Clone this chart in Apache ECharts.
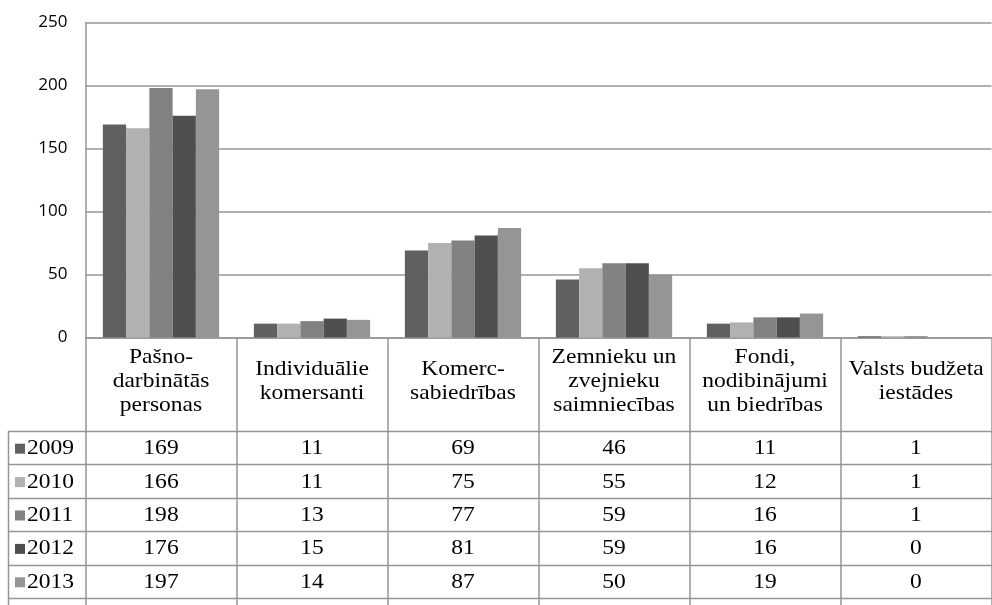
<!DOCTYPE html>
<html>
<head>
<meta charset="utf-8">
<script src="https://cdn.jsdelivr.net/npm/echarts@6/dist/echarts.min.js"></script>
<style>html,body{margin:0;padding:0;background:#fff;}#c{width:992px;height:605px;}</style>
</head>
<body>
<div id="c"></div>
<script>
var categories = ['Pašno-\ndarbinātās\npersonas', 'Individuālie\nkomersanti', 'Komerc-\nsabiedrības', 'Zemnieku un\nzvejnieku\nsaimniecības', 'Fondi,\nnodibinājumi\nun biedrības', 'Valsts budžeta\niestādes'];
var years = ['2009', '2010', '2011', '2012', '2013'];
var v2009 = [169, 11, 69, 46, 11, 1];
var v2010 = [166, 11, 75, 55, 12, 1];
var v2011 = [198, 13, 77, 59, 16, 1];
var v2012 = [176, 15, 81, 59, 16, 0];
var v2013 = [197, 14, 87, 50, 19, 0];
var yTicks = [0, 50, 100, 150, 200, 250];

var values = [v2009, v2010, v2011, v2012, v2013];
var colors = ['#606060', '#b1b1b1', '#818181', '#4f4f4f', '#959595'];
var lineColor = '#969696';
var serif = '"Liberation Serif", "Times New Roman", serif';
var sx = 1.12;

var chart = echarts.init(document.getElementById('c'));
var gridTop = 22.5, gridBottomPx = 337.5, gridLeft = 85.5;
var option = {
  animation: false,
  grid: { left: gridLeft, right: 0.5, top: gridTop, bottom: 605 - gridBottomPx },
  xAxis: {
    type: 'category',
    data: categories,
    axisLine: { lineStyle: { color: lineColor, width: 1.5 } },
    axisTick: { show: true, interval: 0, length: 605 - gridBottomPx, lineStyle: { color: lineColor, width: 1.5 } },
    axisLabel: { show: false }
  },
  yAxis: {
    type: 'value', min: yTicks[0], max: yTicks[yTicks.length - 1], interval: 50,
    axisLine: { show: true, lineStyle: { color: lineColor, width: 1.5 } },
    axisTick: { show: false },
    splitLine: { lineStyle: { color: lineColor, width: 1.5 } },
    axisLabel: { margin: 18, fontFamily: '"Open Sans", sans-serif', fontSize: 17, color: '#000' }
  },
  series: years.map(function (y, i) {
    return { name: y, type: 'bar', data: values[i], barGap: '0%', barCategoryGap: '23%', itemStyle: { color: colors[i] } };
  })
};
chart.setOption(option);

var g = [];
function txt(x, y, s, align) {
  return { type: 'text', x: x, y: y, scaleX: sx, z: 10,
    style: { text: s, font: '21px ' + serif, fill: '#000', lineHeight: 24,
      align: align, textAlign: align, verticalAlign: 'middle', textVerticalAlign: 'middle' } };
}
// Category labels (header row)
categories.forEach(function (c, j) {
  var cx = chart.convertToPixel({ xAxisIndex: 0 }, j);
  g.push(txt(cx, 381, c, 'center'));
});
// Data table below the axis
var rowTop = 431, rowH = 33.4, tableLeft = 8.5, right = 992;
for (var r = 0; r <= years.length; r++) {
  var y = Math.round(rowTop + r * rowH) + 0.5;
  g.push({ type: 'line', shape: { x1: tableLeft, y1: y, x2: right, y2: y }, style: { stroke: lineColor, lineWidth: 1.5 }, z: 10 });
}
g.push({ type: 'line', shape: { x1: tableLeft, y1: rowTop, x2: tableLeft, y2: 605 }, style: { stroke: lineColor, lineWidth: 1.5 }, z: 10 });
years.forEach(function (yr, i) {
  var cy = rowTop + (i + 0.5) * rowH + 1;
  g.push({ type: 'rect', shape: { x: 15, y: cy - 5, width: 10, height: 10 }, style: { fill: colors[i] }, z: 10 });
  g.push(txt(27, cy, yr, 'left'));
  values[i].forEach(function (v, j) {
    var cx = chart.convertToPixel({ xAxisIndex: 0 }, j);
    g.push(txt(cx, cy, String(v), 'center'));
  });
});
chart.setOption({ graphic: g });
</script>
</body>
</html>
